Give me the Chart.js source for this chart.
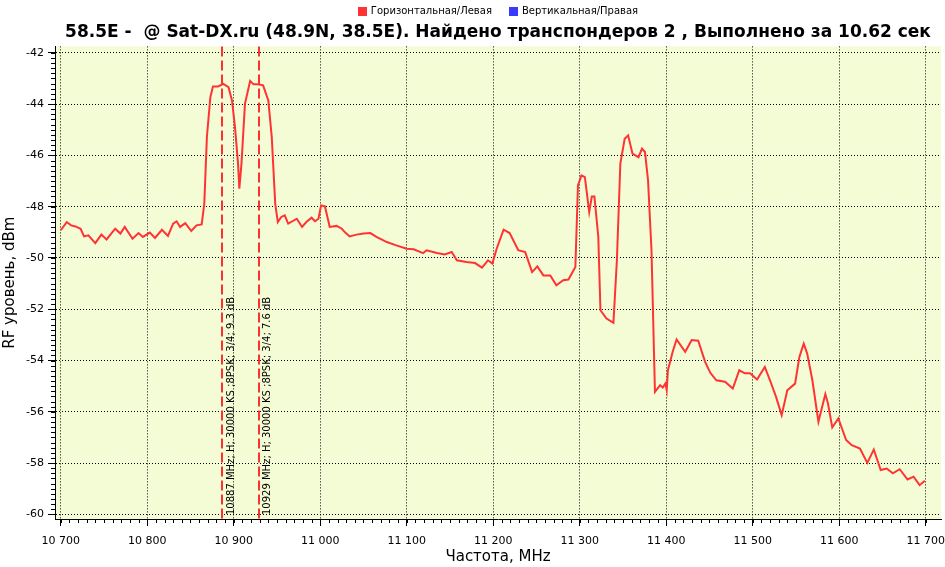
<!DOCTYPE html>
<html lang="ru">
<head>
<meta charset="utf-8">
<title>58.5E Sat-DX.ru</title>
<script src="https://cdn.jsdelivr.net/npm/chart.js@4/dist/chart.umd.min.js"></script>
<style>
  html, body { margin: 0; padding: 0; background: #fff; }
  #wrap { position: relative; width: 945px; height: 567px; }
</style>
</head>
<body>
<div id="wrap"><canvas id="scan-chart"></canvas></div>
<script>
// ========================
// Data
// ========================
const freqs = [
  10700, 10707, 10712, 10717, 10723, 10727, 10732, 10740, 10747, 10753,
  10763, 10769, 10774, 10783, 10790, 10795, 10803, 10809, 10817, 10824,
  10830, 10834, 10838, 10844, 10851, 10857, 10863, 10866, 10869, 10873,
  10876, 10882, 10888, 10894, 10898, 10901.5, 10905, 10906.5, 10909, 10913,
  10919, 10923, 10928, 10934, 10940, 10944, 10948, 10951, 10955, 10959,
  10963, 10973, 10979, 10984, 10990, 10994, 10998, 11001, 11005.5, 11011,
  11019, 11025, 11029, 11034, 11042, 11050, 11058, 11065, 11077, 11088,
  11100, 11108, 11119, 11123, 11135, 11144, 11152, 11158, 11169, 11179,
  11187, 11194, 11199, 11204, 11212, 11219, 11229, 11237, 11245, 11251,
  11258, 11266, 11273, 11281, 11287, 11295, 11298, 11302, 11306, 11311,
  11314, 11317, 11321.5, 11324, 11331, 11339, 11343, 11347, 11352, 11356,
  11361, 11368, 11372, 11375.5, 11379, 11383, 11387, 11393, 11396, 11399,
  11400.6, 11402, 11407.5, 11412, 11422, 11429.5, 11437, 11445, 11451, 11458,
  11468, 11477, 11484.5, 11491, 11497, 11505, 11514, 11520, 11527, 11533.5,
  11540, 11549, 11554, 11559, 11563, 11569, 11576, 11584, 11587, 11592,
  11599, 11608, 11614.5, 11624, 11632.5, 11640, 11648, 11655, 11662, 11670,
  11679, 11686, 11693, 11699
];
const levels = [
  -48.92, -48.60, -48.73, -48.77, -48.86, -49.16, -49.12, -49.42, -49.09, -49.28,
  -48.86, -49.05, -48.79, -49.25, -49.03, -49.18, -49.01, -49.22, -48.90, -49.14,
  -48.66, -48.57, -48.79, -48.64, -48.95, -48.73, -48.69, -47.88, -45.29, -43.73,
  -43.31, -43.31, -43.21, -43.34, -43.86, -44.90, -46.32, -47.30, -46.32, -43.99,
  -43.10, -43.23, -43.23, -43.27, -43.86, -45.29, -47.88, -48.60, -48.40, -48.34,
  -48.66, -48.47, -48.79, -48.60, -48.43, -48.57, -48.47, -47.95, -47.99, -48.79,
  -48.75, -48.86, -49.01, -49.16, -49.09, -49.05, -49.03, -49.18, -49.38, -49.51,
  -49.64, -49.66, -49.81, -49.70, -49.81, -49.86, -49.77, -50.09, -50.16, -50.20,
  -50.38, -50.09, -50.22, -49.64, -48.90, -49.03, -49.70, -49.77, -50.55, -50.33,
  -50.68, -50.68, -51.07, -50.87, -50.84, -50.35, -47.17, -46.78, -46.85, -48.21,
  -47.60, -47.60, -49.18, -52.04, -52.36, -52.53, -50.09, -46.32, -45.35, -45.22,
  -45.93, -46.07, -45.74, -45.87, -46.97, -49.70, -55.22, -54.96, -55.05, -54.90,
  -55.16, -54.38, -53.66, -53.18, -53.66, -53.20, -53.23, -54.05, -54.48, -54.77,
  -54.83, -55.09, -54.38, -54.50, -54.50, -54.74, -54.25, -54.77, -55.42, -56.13,
  -55.16, -54.90, -53.86, -53.34, -53.73, -54.77, -56.39, -55.31, -55.67, -56.61,
  -56.26, -57.10, -57.30, -57.43, -57.99, -57.47, -58.27, -58.21, -58.40, -58.24,
  -58.64, -58.53, -58.86, -58.69
];
const xTicks = [10700, 10800, 10900, 11000, 11100, 11200, 11300, 11400, 11500, 11600, 11700];
const yTicks = [-42, -44, -46, -48, -50, -52, -54, -56, -58, -60];

const transponderFreqs = [10887, 10929];
const transponderText = [
  "10887 MHz; H; 30000 KS ;8PSK; 3/4; 9.3 dB",
  "10929 MHz; H; 30000 KS ;8PSK; 3/4; 7.6 dB"
];
const seriesNames = ["Горизонтальная/Левая", "Вертикальная/Правая"];
const seriesColors = ["#ff3333", "#3a3aff"];
const chartTitle = "58.5E -  @ Sat-DX.ru (48.9N, 38.5E). Найдено транспондеров 2 , Выполнено за 10.62 сек";

// ========================
// Extra drawing: plot background, minor ticks, markers, legend
// ========================
const scanExtras = {
  id: "scanExtras",
  beforeDraw(chart) {
    const { ctx, chartArea: a } = chart;
    ctx.save();
    ctx.fillStyle = "#f4fcd6";
    ctx.fillRect(a.left, a.top, a.right - a.left, a.bottom - a.top);
    ctx.restore();
  },
  afterDatasetsDraw(chart) {
    const { ctx, chartArea: a, scales: { x } } = chart;
    ctx.save();
    ctx.strokeStyle = "#ff3030";
    ctx.lineWidth = 2;
    ctx.setLineDash([10, 4]);
    transponderFreqs.forEach(f => {
      const px = Math.round(x.getPixelForValue(f));
      ctx.beginPath();
      ctx.moveTo(px, a.top);
      ctx.lineTo(px, a.bottom);
      ctx.stroke();
    });
    ctx.setLineDash([]);
    ctx.fillStyle = "#000";
    ctx.font = "10px 'DejaVu Sans'";
    ctx.textBaseline = "top";
    ctx.textAlign = "left";
    transponderFreqs.forEach((f, i) => {
      const px = x.getPixelForValue(f);
      ctx.save();
      ctx.translate(px + 4, a.bottom - 4);
      ctx.rotate(-Math.PI / 2);
      ctx.fillText(transponderText[i], 0, 0);
      ctx.restore();
    });
    ctx.restore();
  },
  afterDraw(chart) {
    const { ctx, chartArea: a, scales: { x, y } } = chart;
    ctx.save();
    ctx.strokeStyle = "#000";
    ctx.lineWidth = 1;
    // minor ticks, x every 10 MHz
    ctx.beginPath();
    for (let k = 0; k <= 100; k++) {
      const px = Math.round(x.getPixelForValue(10700 + k * 10)) + 0.5;
      ctx.moveTo(px, x.top);
      ctx.lineTo(px, x.top + 4);
    }
    // minor ticks, y every 0.2 dB
    for (let k = 0; k <= 90; k++) {
      const py = Math.round(y.getPixelForValue(-60 + k * 0.2)) + 0.5;
      ctx.moveTo(y.right - 4, py);
      ctx.lineTo(y.right, py);
    }
    ctx.stroke();

    // legend on top
    ctx.font = "10px 'DejaVu Sans'";
    ctx.textBaseline = "middle";
    ctx.textAlign = "left";
    const box = 9, gap = 4, between = 17;
    const widths = seriesNames.map(t => ctx.measureText(t).width);
    const total = widths.reduce((s, w) => s + box + gap + w, 0) + between;
    let lx = (a.left + a.right) / 2 - total / 2;
    const ly = 11;
    seriesNames.forEach((t, i) => {
      ctx.fillStyle = seriesColors[i];
      ctx.fillRect(Math.round(lx), ly - 4, box, box);
      ctx.fillStyle = "#000";
      ctx.fillText(t, lx + box + gap, ly + 0.5);
      lx += box + gap + widths[i] + between;
    });
    ctx.restore();
  }
};

// ========================
// Chart
// ========================
Chart.defaults.font.family = "'DejaVu Sans', sans-serif";
Chart.defaults.color = "#000";

const fmtFreq = v => String(v).replace(/\B(?=(\d{3})+(?!\d))/g, " ");

new Chart(document.getElementById("scan-chart").getContext("2d"), {
  type: "line",
  data: {
    datasets: [
      {
        label: seriesNames[0],
        data: freqs.map((f, i) => ({ x: f, y: levels[i] })),
        borderColor: seriesColors[0],
        backgroundColor: seriesColors[0],
        borderWidth: 2,
        pointRadius: 0,
        tension: 0
      },
      {
        label: seriesNames[1],
        data: [],
        borderColor: seriesColors[1],
        backgroundColor: seriesColors[1],
        pointRadius: 0
      }
    ]
  },
  options: {
    responsive: true,
    maintainAspectRatio: false,
    animation: false,
    layout: { padding: { left: 0, right: 4, top: 22, bottom: 0 } },
    plugins: {
      legend: { display: false },
      tooltip: { enabled: false },
      title: {
        display: true,
        text: chartTitle,
        fullSize: false,
        font: { size: 17, weight: "bold" },
        padding: { top: 0, bottom: 4 }
      }
    },
    scales: {
      x: {
        type: "linear",
        min: 10693.4,
        max: 11717.7,
        afterBuildTicks: s => { s.ticks = xTicks.map(v => ({ value: v })); },
        afterFit: s => { s.height = 48; s.paddingLeft = 0; s.paddingRight = 0; },
        ticks: { font: { size: 11 }, padding: 9, maxRotation: 0, callback: v => fmtFreq(v) },
        grid: { color: "#000", lineWidth: 1, tickLength: 7, tickColor: "#000" },
        border: { display: true, color: "#000", width: 1, dash: [1, 2] },
        title: { display: true, text: "Частота, MHz", font: { size: 15 }, padding: { top: 0, bottom: 1 } }
      },
      y: {
        min: -60.18,
        max: -41.75,
        afterBuildTicks: s => { s.ticks = yTicks.map(v => ({ value: v })); },
        afterFit: s => { s.width = 55; s.paddingTop = 0; s.paddingBottom = 0; },
        ticks: { font: { size: 11 }, padding: 4, callback: v => String(v) },
        grid: { color: "#000", lineWidth: 1, tickLength: 7, tickColor: "#000" },
        border: { display: true, color: "#000", width: 1, dash: [1, 2] },
        title: { display: true, text: "RF уровень, dBm", font: { size: 15 }, padding: { top: 1, bottom: 0 } }
      }
    }
  },
  plugins: [scanExtras]
});
</script>
</body>
</html>
